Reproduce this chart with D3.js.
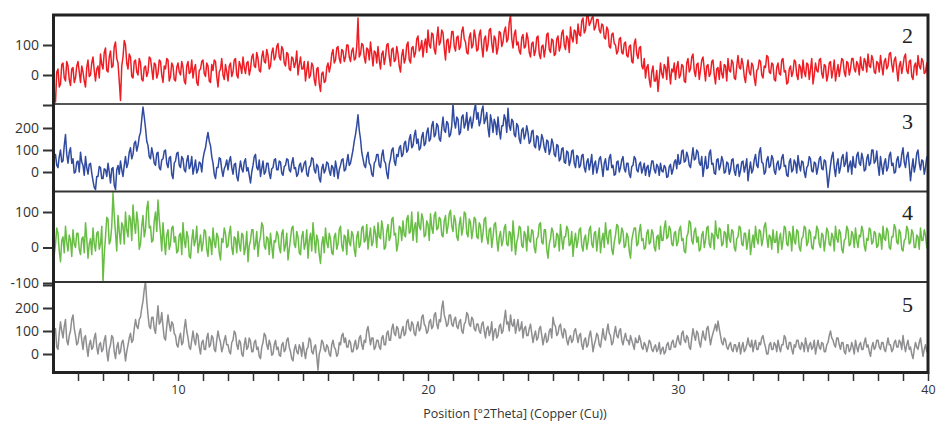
<!DOCTYPE html>
<html><head><meta charset="utf-8">
<script src="https://cdn.jsdelivr.net/npm/d3@7"></script>
<style>body{margin:0;background:#fff}svg{display:block}</style>
</head><body><svg id="c" width="936" height="423"></svg>
<script>
// 2Theta sampling: 5.00 .. 40.00 step 0.05 (20 readings per degree)
const xStart = 5, xStep = 0.05;

const sample2 = [
-5,-60,-90,10,20,-40,-30,35,40,-10,-20,45,30,-15,-35,20,25,-25,-10,30,
45,10,-25,30,10,-20,-40,25,50,-5,0,40,60,15,-20,20,30,-10,70,35,
20,75,90,15,10,60,80,25,30,95,110,55,40,-20,-85,30,60,115,100,40,
20,70,60,-5,-10,45,50,10,0,55,40,-15,-20,25,30,-5,10,60,55,20,
-15,40,35,-10,5,50,45,0,-25,30,20,55,50,-20,-5,40,30,-15,-20,25,
40,10,0,45,25,-20,-30,30,45,5,10,50,-10,20,35,-25,-35,15,20,45,
50,5,-5,40,30,-20,-25,35,15,50,45,-5,-40,10,20,55,0,-15,35,10,
-20,30,40,-5,10,50,55,0,-10,45,30,5,60,25,5,40,45,0,20,60,
70,30,25,75,55,15,10,60,80,45,40,85,65,20,30,75,90,50,60,95,
105,60,50,95,85,40,30,75,70,20,15,60,55,25,40,80,0,35,60,20,
20,45,-20,15,45,-10,0,40,30,-15,-35,20,25,-30,-55,5,10,-25,-20,25,
40,10,30,70,85,40,50,90,95,55,40,85,80,45,60,100,100,60,45,80,
90,50,55,95,190,60,70,105,100,60,40,90,85,50,110,70,30,80,75,40,
95,50,20,70,80,35,60,100,105,60,30,85,90,45,50,95,70,30,10,65,
85,40,55,100,110,50,40,90,95,60,75,120,130,80,90,115,60,100,120,75,
150,100,90,140,135,85,70,120,160,100,110,150,140,90,50,115,120,75,100,145,
145,95,80,125,130,85,95,145,160,120,110,75,70,125,140,90,100,150,125,80,
85,135,150,95,60,120,130,80,100,150,155,105,75,130,120,70,90,145,140,95,
110,145,160,110,120,175,200,120,90,135,150,100,110,80,70,125,135,90,95,140,
120,75,60,105,110,65,80,125,130,70,55,95,100,60,90,135,140,85,75,120,
115,65,70,120,130,80,95,140,150,100,85,130,120,75,160,125,110,150,145,105,
170,135,130,180,190,140,150,195,200,165,175,190,195,150,160,185,185,150,140,170,
165,125,120,160,150,95,90,135,140,105,100,70,80,120,125,75,70,105,110,65,
60,95,100,45,40,105,120,70,55,90,95,30,20,55,-10,25,35,-15,-40,10,
30,-20,-20,15,-55,-10,40,5,-10,35,25,-15,60,15,-30,20,10,40,-15,25,
45,-10,0,35,30,-20,-25,40,55,10,20,60,70,15,-5,35,40,-15,15,50,
60,20,-20,30,35,-5,5,45,50,0,-30,20,25,-15,45,5,-10,35,30,-20,
55,15,10,50,40,-10,-15,30,65,25,20,55,35,-5,-25,20,50,10,0,40,
30,-10,-35,15,20,50,45,0,-10,30,25,65,60,10,5,40,35,-15,-20,25,
40,5,0,50,55,10,15,-30,-25,20,30,-5,10,50,45,0,-15,35,25,-10,
50,10,-5,40,35,-15,20,55,-30,0,40,15,10,50,55,5,-10,35,30,-20,
0,40,45,-10,15,50,-20,10,35,-5,25,55,50,10,-5,45,40,0,20,55,
55,20,10,45,35,0,60,25,15,55,45,10,70,30,25,65,50,10,5,45,
40,10,65,30,0,45,55,20,30,70,75,35,10,50,60,20,-20,30,45,5,
30,60,70,15,5,45,50,-5,-15,30,40,0,65,30,20,55,45,5,10,40,
-40];

const sample3 = [
30,60,80,30,20,70,100,45,50,120,170,80,40,90,110,40,60,-5,0,45,
50,0,90,45,30,-15,70,20,-10,35,40,-5,-40,-70,-80,-20,-20,25,20,-30,
-30,15,10,-20,40,0,-50,15,20,-60,-80,10,30,-10,50,10,-20,30,70,20,
40,90,110,60,80,130,140,95,120,160,180,240,295,250,200,140,120,70,60,110,
80,40,30,85,90,20,10,55,60,95,100,40,20,65,70,-10,-30,40,50,85,
90,30,20,70,60,10,0,50,75,15,30,70,-10,20,55,-5,10,45,40,0,
60,90,110,150,180,140,120,70,40,-10,-30,20,20,65,60,10,-20,15,30,55,
10,50,70,20,-10,35,40,-20,-40,10,50,15,0,45,60,5,20,-15,-50,0,
30,70,80,20,10,55,-20,15,50,-10,0,40,40,-5,-30,15,20,55,60,10,
10,50,45,-5,-15,25,30,60,55,10,0,40,65,15,20,-20,-10,30,40,0,
15,40,50,-10,-20,20,30,65,60,10,-5,35,25,-30,-45,15,35,-5,10,45,
40,5,-15,30,20,-20,50,15,-30,10,30,55,60,5,10,45,80,30,40,70,
100,140,170,210,260,190,150,90,60,30,20,70,90,40,30,-10,-20,40,50,80,
80,30,20,75,100,50,40,-5,-30,35,60,100,110,50,30,80,70,110,120,70,
80,130,140,90,100,150,170,110,120,165,190,130,150,100,110,160,180,120,130,180,
200,140,150,210,230,160,170,220,210,150,140,200,250,190,180,230,220,160,170,210,
310,230,200,250,240,170,180,250,260,200,220,270,190,230,250,200,230,280,310,240,
270,210,230,280,300,220,240,270,200,160,260,230,180,240,220,170,250,190,150,210,
210,260,240,180,290,210,190,240,230,170,160,220,210,150,130,190,200,150,170,210,
180,130,140,185,190,120,110,165,160,100,120,170,150,110,90,145,140,80,100,150,
130,80,70,125,120,50,60,105,110,45,40,95,90,30,50,95,100,40,20,75,
70,20,30,75,80,20,0,45,60,10,40,80,-10,35,50,-5,20,60,70,25,
-20,40,60,10,10,65,80,20,30,-15,-10,45,50,0,20,55,70,15,0,40,
40,-10,-25,25,30,70,60,10,0,35,45,-5,15,40,-15,20,30,-20,10,50,
50,10,-5,35,25,-15,40,5,0,30,20,-25,-20,25,35,-10,10,45,55,15,
80,35,40,95,100,45,50,90,70,30,20,65,110,55,60,100,90,40,30,70,
-20,25,70,15,20,85,100,35,40,-5,-10,55,60,10,30,70,50,-5,0,45,
40,-10,10,55,60,5,-15,30,35,-20,5,45,50,0,25,60,-40,10,45,-5,
10,55,80,30,20,90,110,45,40,-10,0,55,70,20,30,75,60,5,-10,35,
50,10,20,65,80,25,30,-15,-20,45,60,0,10,55,40,-5,75,30,5,50,
45,0,-25,20,30,70,60,5,0,45,40,-10,20,60,70,15,10,55,50,-5,
-70,-20,30,70,90,20,-20,35,60,-5,20,65,80,25,40,90,0,30,50,-10,
70,25,20,75,90,40,30,85,60,5,10,60,80,30,40,100,100,40,50,95,
30,-15,70,25,-10,40,60,5,20,75,90,30,40,-5,0,55,70,20,30,80,
110,45,20,70,90,30,-40,15,60,0,30,85,100,40,10,55,50,-10,20,65,
80];

const sample4 = [
-80,-20,10,55,40,-10,-40,20,30,-15,60,15,-10,35,20,-25,50,10,0,40,
40,-5,-20,25,30,-15,70,25,-30,10,25,-20,55,10,-10,40,45,-5,10,60,
-97,-20,30,85,80,10,20,60,154,90,40,-10,90,45,10,70,60,10,100,50,
30,90,80,20,120,70,40,100,70,-5,10,60,90,30,50,110,130,55,60,15,
20,75,100,45,134,80,40,-10,70,20,-20,35,50,-5,10,55,60,15,30,-15,
-10,35,40,-20,70,20,0,45,30,-25,-30,20,50,5,20,60,-15,10,35,-10,
10,50,45,-5,-25,30,20,-20,55,15,0,40,30,-15,-35,25,15,55,40,0,
5,40,60,0,-20,30,25,-15,45,10,-10,40,35,-20,0,45,-40,5,20,50,
50,-5,10,45,-25,15,30,70,60,5,-5,30,25,-20,40,5,-30,20,15,45,
35,0,-15,40,50,-10,5,40,-35,-5,25,55,60,10,0,45,30,-15,-20,30,
45,-5,10,50,-30,20,40,-10,70,25,-15,35,20,-20,-45,10,30,-15,55,15,
0,40,25,-15,-20,30,40,-5,10,50,60,5,-10,35,30,-20,50,15,5,45,
35,-5,-25,30,45,0,10,55,60,15,20,65,-5,30,55,5,15,60,40,0,
70,30,25,75,50,-5,0,45,65,20,30,80,85,35,40,-10,10,60,55,20,
75,35,30,80,90,40,45,100,20,55,70,15,100,60,50,95,80,30,35,75,
65,20,95,55,40,90,100,50,55,85,80,35,30,75,90,40,60,95,105,60,
45,90,75,30,20,65,85,35,55,100,95,40,30,80,70,25,50,85,80,30,
25,70,60,15,40,80,85,30,10,50,55,0,30,65,70,25,-10,30,45,5,
20,55,65,10,5,45,40,-10,75,30,-20,15,30,60,55,5,0,45,35,-10,
60,20,15,50,45,0,-15,25,30,65,70,15,10,50,50,-5,-30,10,25,55,
45,0,5,40,35,-10,65,25,-5,30,30,60,50,5,10,45,-25,15,40,0,
20,50,55,5,-10,25,35,-5,15,50,60,10,0,40,45,-10,25,55,-15,20,
40,0,70,30,10,45,50,-5,-20,15,35,65,60,10,20,55,45,0,5,40,
30,-10,-30,20,40,55,55,5,10,45,65,20,25,-5,0,40,50,10,15,50,
40,0,-10,30,35,-5,60,20,20,55,75,25,30,60,50,10,5,40,45,5,
15,50,60,20,25,-10,-15,30,40,75,70,20,10,45,55,15,30,-10,-5,35,
45,0,20,55,60,10,0,40,35,-5,75,35,25,55,50,5,10,45,40,0,
65,25,15,50,45,0,-10,25,30,60,55,10,5,40,40,-5,20,50,-20,10,
35,0,60,25,10,50,45,5,25,60,70,30,0,35,30,-5,50,15,15,45,
-15,25,40,-5,20,60,55,10,5,45,35,-10,60,20,10,50,45,0,-10,25,
30,60,55,5,15,50,40,0,-5,30,25,60,50,10,0,40,35,-10,20,55,
45,10,5,40,30,-10,60,25,15,50,40,-5,-15,20,25,60,50,5,10,45,
35,0,55,20,0,35,30,60,45,5,-10,25,20,55,50,10,15,45,40,0,
5,40,35,-5,60,25,20,55,45,0,-5,30,30,65,55,15,10,50,40,-5,
-10,20,25,60,50,10,15,50,40,0,0,35,30,-5,55,20,20,50,35,0,
-5];

const sample5 = [
60,100,110,30,20,90,140,100,70,120,150,60,40,80,100,150,170,110,80,40,
50,90,110,60,20,70,80,30,-10,40,60,20,30,70,90,30,0,40,50,10,
20,60,80,10,-30,20,40,80,70,10,-20,30,50,0,10,50,60,20,-30,10,
40,70,90,50,60,110,150,120,110,150,160,200,230,280,318,230,170,120,110,160,
160,110,90,150,210,130,140,180,120,70,60,120,170,130,100,140,130,90,80,40,
30,70,90,40,50,110,150,100,70,30,20,60,100,60,40,90,80,30,0,50,
60,20,20,70,90,30,40,80,70,20,10,60,100,70,50,10,30,60,80,40,
40,10,0,50,60,100,90,40,20,60,50,0,-10,40,70,20,30,70,55,10,
10,50,60,20,30,-10,-20,30,50,90,80,40,20,60,40,-5,0,40,60,20,
30,-5,-10,40,50,10,20,60,70,30,10,-20,-30,20,40,10,0,40,25,-10,
50,10,-20,20,30,70,60,10,0,30,40,-10,-70,0,20,60,50,20,10,40,
30,0,-10,40,60,30,20,-10,0,50,40,80,90,50,70,30,30,60,50,10,
10,40,60,20,30,70,80,40,20,60,50,100,120,80,40,70,70,20,30,60,
60,30,20,70,80,40,40,90,100,60,60,110,130,90,80,120,110,70,70,100,
120,80,90,140,150,110,100,140,130,90,80,120,140,100,110,160,170,130,120,90,
100,140,150,110,120,170,180,130,110,150,140,200,230,170,150,120,130,170,170,130,
120,150,160,120,110,140,150,100,90,130,140,180,170,130,120,160,150,110,100,130,
130,100,90,130,140,100,70,110,120,80,100,140,60,100,110,70,80,120,130,90,
100,150,190,130,140,100,170,130,120,150,90,120,150,100,110,140,70,110,120,80,
80,110,130,90,50,80,100,60,70,110,120,80,40,70,90,50,60,100,110,70,
160,130,120,80,90,120,130,90,70,110,100,60,40,70,80,50,60,100,110,80,
50,80,90,40,20,60,70,30,40,80,100,60,10,40,60,90,80,40,30,70,
110,70,60,100,130,90,80,40,50,90,120,80,70,100,110,60,40,70,90,60,
60,40,80,60,40,20,70,50,50,80,60,30,20,50,40,10,30,60,50,20,
10,30,40,10,20,50,0,20,30,0,10,40,50,20,20,50,60,30,30,60,
80,50,40,90,100,60,50,80,70,30,20,70,110,80,60,100,90,50,30,70,
100,70,60,110,120,80,40,70,90,110,130,100,143,110,80,50,40,70,60,30,
20,40,50,20,10,40,40,10,30,50,0,30,50,10,20,40,70,40,30,60,
10,40,60,20,20,50,40,70,80,50,30,0,0,40,50,20,20,50,40,10,
60,30,10,40,40,80,70,30,20,50,50,20,0,40,30,60,60,30,20,50,
40,10,70,40,10,40,50,20,30,60,0,30,60,30,20,50,45,10,10,40,
50,80,100,70,60,40,30,70,70,40,20,50,50,10,0,40,40,10,20,50,
30,0,60,30,10,40,50,20,20,50,70,30,40,10,-10,30,50,20,30,60,
60,30,20,50,50,20,10,40,70,40,40,10,20,50,60,30,30,60,50,20,
80,40,10,40,60,20,30,0,-20,20,50,30,20,50,70,30,-10,20,40,10,
20];

const panelLabels = ["2", "3", "4", "5"];
const xTickLabels = [10, 20, 30, 40];
const xMinorTicks = d3.range(6, 41);
const yTicks = [[-100, 0, 100], [0, 100, 200], [-100, 0, 100], [0, 100, 200, 300]];
const yTickLabels = [[0, 100], [0, 100, 200], [-100, 0, 100], [0, 100, 200]];
const seriesColors = ["#ee1d23", "#2f4a9e", "#68bd45", "#8e8e90"];

const svg = d3.select("#c");
const x = d3.scaleLinear().domain([5, 40]).range([53, 928]);

const panels = [
  {data: sample2, top: 15,  bottom: 104, dom: [-100, 200], rng: [105, 15],  lblY: 43},
  {data: sample3, top: 104, bottom: 191, dom: [-100, 300], rng: [194, 106], lblY: 129},
  {data: sample4, top: 191, bottom: 282, dom: [-100, 100], rng: [283, 212], lblY: 220},
  {data: sample5, top: 282, bottom: 373, dom: [-100, 300], rng: [377, 285], lblY: 312}
];

const defs = svg.append("defs");
panels.forEach((p, i) => {
  defs.append("clipPath").attr("id", "clip" + i)
    .append("rect").attr("x", 53).attr("y", p.top).attr("width", 875).attr("height", p.bottom - p.top);
  const y = d3.scaleLinear().domain(p.dom).range(p.rng);
  const line = d3.line().x((d, j) => x(xStart + j * xStep)).y(d => y(d));
  svg.append("path").datum(p.data)
    .attr("clip-path", "url(#clip" + i + ")")
    .attr("fill", "none").attr("stroke", seriesColors[i])
    .attr("stroke-width", 1.5).attr("stroke-linejoin", "round")
    .attr("d", line);

  const ax = svg.append("g").attr("transform", "translate(53,0)")
    .call(d3.axisLeft(y).tickValues(yTicks[i]).tickSize(10).tickPadding(4)
      .tickFormat(d => yTickLabels[i].includes(d) ? String(d) : ""));
  ax.select(".domain").remove();
  ax.selectAll(".tick line").attr("stroke", "#333").attr("stroke-width", 2);
  ax.selectAll(".tick text").attr("fill", "#333")
    .style("font-family", "'Open Sans', sans-serif").style("font-size", "14px");

  svg.append("text").attr("x", 913).attr("y", p.lblY).attr("text-anchor", "end")
    .style("font-family", "'Liberation Serif', 'DejaVu Serif', serif").style("font-size", "22px")
    .attr("fill", "#222").text(panelLabels[i]);
});

// separators
[104, 191.5, 282].forEach((yy, k) => {
  svg.append("line").attr("x1", 53).attr("x2", 928).attr("y1", yy).attr("y2", yy)
    .attr("stroke", k === 0 ? "#555" : "#333").attr("stroke-width", 2);
});

// frame
svg.append("rect").attr("x", 53.5).attr("y", 15).attr("width", 874.5).attr("height", 357.5)
  .attr("fill", "none").attr("stroke", "#222").attr("stroke-width", 3);

// bottom axis
const bx = svg.append("g").attr("transform", "translate(0,373)")
  .call(d3.axisBottom(x).tickValues(xMinorTicks).tickSize(8).tickPadding(4)
    .tickFormat(d => xTickLabels.includes(d) ? String(d) : ""));
bx.select(".domain").remove();
bx.selectAll(".tick line").attr("stroke", "#333").attr("stroke-width", 1.5);
bx.selectAll(".tick text").attr("fill", "#333")
  .style("font-family", "'Open Sans', sans-serif").style("font-size", "12.5px");

svg.append("text").attr("x", 515).attr("y", 418).attr("text-anchor", "middle")
  .style("font-family", "'Open Sans', sans-serif").style("font-size", "12.5px")
  .attr("fill", "#333").text("Position [°2Theta] (Copper (Cu))");
</script></body></html>
